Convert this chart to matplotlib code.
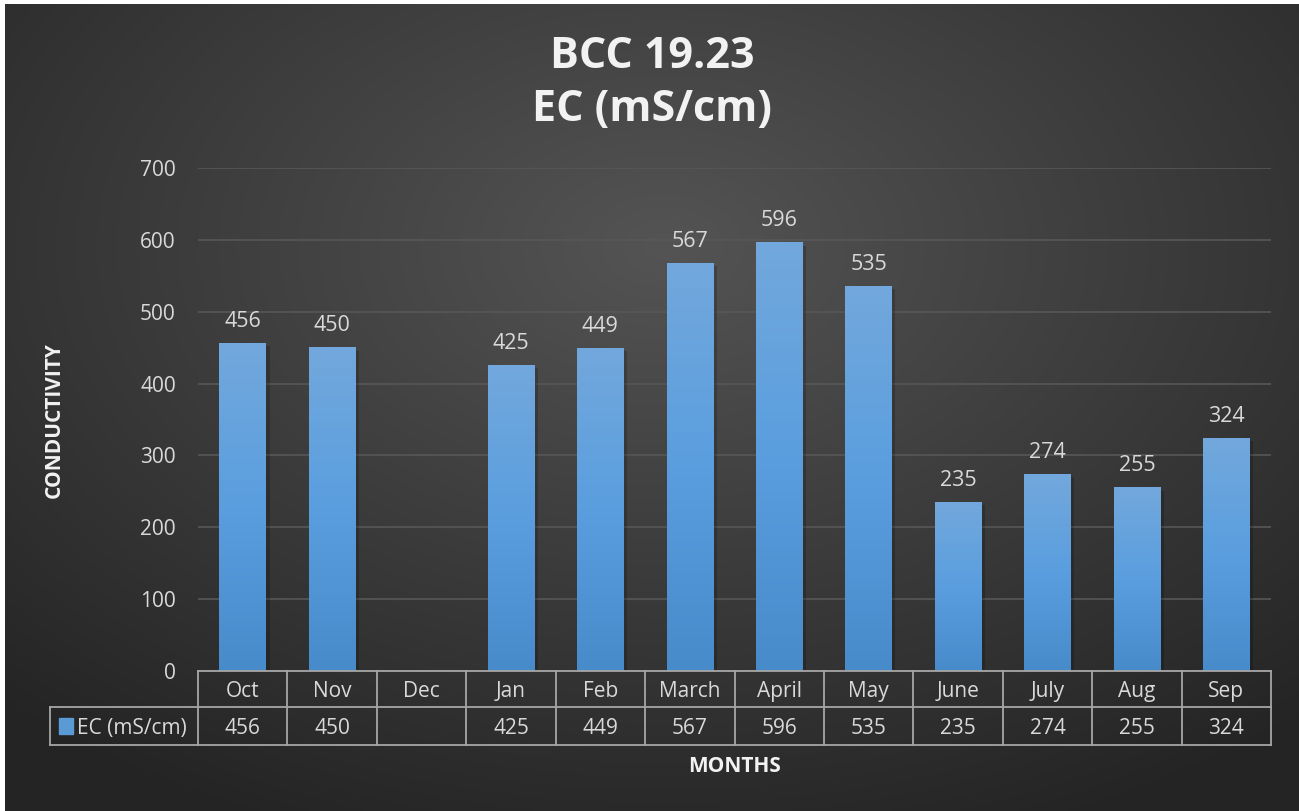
import numpy as np
import matplotlib
matplotlib.use("Agg")
import matplotlib.pyplot as plt
from matplotlib.lines import Line2D
from matplotlib.patches import Rectangle
import matplotlib.transforms as mtransforms

plt.rcParams['font.family'] = ['Open Sans', 'DejaVu Sans']

months = ["Oct", "Nov", "Dec", "Jan", "Feb", "March", "April", "May", "June", "July", "Aug", "Sep"]
ec_values = [456, 450, None, 425, 449, 567, 596, 535, 235, 274, 255, 324]
series_name = "EC (mS/cm)"
title_line1 = "BCC 19.23"
title_line2 = "EC (mS/cm)"
y_ticks = [0, 100, 200, 300, 400, 500, 600, 700]

W, H = 1299, 811
fig = plt.figure(figsize=(W / 100, H / 100), dpi=100)
fig.patch.set_facecolor("white")

# background with radial gradient
bg = fig.add_axes([5 / W, 0, (W - 5) / W, (H - 4) / H])
bg.set_axis_off()
yy, xx = np.mgrid[0:400, 0:650]
cx, cy = 330, 120
r = np.sqrt(((xx - cx) / 650) ** 2 + ((yy - cy) / 420) ** 2)
r = np.clip(r / 0.75, 0, 1)
c_in = np.array([0x54, 0x54, 0x54]) / 255
c_out = np.array([0x24, 0x24, 0x24]) / 255
img = c_in[None, None, :] * (1 - r[..., None]) + c_out[None, None, :] * r[..., None]
bg.imshow(img, aspect="auto", extent=(0, 1, 0, 1), origin="upper")
bg.set_xlim(0, 1)
bg.set_ylim(0, 1)

ax_l, ax_r = 198 / W, 1271 / W
ax_t, ax_b = 1 - 168 / H, 1 - 671 / H
ax = fig.add_axes([ax_l, ax_b, ax_r - ax_l, ax_t - ax_b])
ax.patch.set_alpha(0)

x = np.arange(len(months))
vals = [v if v is not None else 0 for v in ec_values]
bw = 0.52
bars = ax.bar(x, vals, width=bw, color="#5b9bd5", zorder=3)

grad = np.linspace(0, 1, 256)[:, None]
top_c = np.array([0x72, 0xa8, 0xdc]) / 255
mid_c = np.array([0x5a, 0x9e, 0xdf]) / 255
bot_c = np.array([0x47, 0x8b, 0xcb]) / 255
g = np.where(grad < 0.5,
             top_c[None, :] * (1 - grad / 0.5) + mid_c[None, :] * (grad / 0.5),
             mid_c[None, :] * (1 - (grad - 0.5) / 0.5) + bot_c[None, :] * ((grad - 0.5) / 0.5))
gimg = np.repeat(g[:, None, :], 2, axis=1)
for xi, v in zip(x, ec_values):
    if v is None:
        continue
    # soft shadow
    ax.add_patch(Rectangle((xi - bw / 2 + 0.04, 0), bw, v - 4, color="black", alpha=0.18, zorder=2, lw=0))
    ax.imshow(gimg, extent=(xi - bw / 2, xi + bw / 2, 0, v), aspect="auto", zorder=4, origin="upper")
    ax.text(xi, v + 16, f"{v}", ha="center", va="bottom", color="#d9d9d9", fontsize=15.5, zorder=5)

ax.set_xlim(-0.5, len(months) - 0.5)
ax.set_ylim(0, 700)
ax.set_yticks(y_ticks)
ax.set_yticklabels([str(t) for t in y_ticks])
ax.tick_params(axis="y", length=0, colors="#d9d9d9", labelsize=15, pad=16)
ax.set_xticks([])
for s in ax.spines.values():
    s.set_visible(False)
ax.grid(axis="y", color="#575757", lw=1.2, zorder=0)
ax.set_axisbelow(True)

# data table
trans = mtransforms.blended_transform_factory(ax.transData, ax.transAxes)
ah = 671 - 168
y1 = -(707 - 671) / ah
y2 = -(745 - 671) / ah
lc = "#a6a6a6"
xl = -0.5 - (198 - 50) / ((1271 - 198) / 12)
xr = len(months) - 0.5
ax.add_line(Line2D([-0.5, xr], [0, 0], transform=trans, color=lc, lw=1.3, clip_on=False, zorder=6))
ax.add_line(Line2D([xl, xr], [y1, y1], transform=trans, color=lc, lw=1.3, clip_on=False, zorder=6))
ax.add_line(Line2D([xl, xr], [y2, y2], transform=trans, color=lc, lw=1.3, clip_on=False, zorder=6))
ax.add_line(Line2D([xl, xl], [y1, y2], transform=trans, color=lc, lw=1.3, clip_on=False, zorder=6))
for b in np.arange(-0.5, len(months), 1.0):
    ax.add_line(Line2D([b, b], [0, y2], transform=trans, color=lc, lw=1.3, clip_on=False, zorder=6))
for xi, m, v in zip(x, months, ec_values):
    ax.text(xi, y1 / 2 - 0.004, m, transform=trans, ha="center", va="center", color="#d9d9d9", fontsize=15)
    if v is not None:
        ax.text(xi, (y1 + y2) / 2 - 0.004, f"{v}", transform=trans, ha="center", va="center", color="#d9d9d9", fontsize=15)
# legend key inside table
ax.add_patch(Rectangle((xl + 0.1, (y1 + y2) / 2 - 0.015), 0.16, 0.03, transform=trans,
                       color="#5b9bd5", clip_on=False, zorder=6))
ax.text(xl + 0.3, (y1 + y2) / 2 - 0.004, series_name, transform=trans, ha="left", va="center",
        color="#d9d9d9", fontsize=15)

# titles and labels
fig.text(652 / W, 1 - 57 / H, title_line1, ha="center", va="center",
         color="#f2f2f2", fontsize=31, fontweight="bold")
fig.text(652 / W, 1 - 110 / H, title_line2, ha="center", va="center",
         color="#f2f2f2", fontsize=31, fontweight="bold")
fig.text(54 / W, 1 - 420 / H, "CONDUCTIVITY", rotation=90, ha="center", va="center",
         color="#f2f2f2", fontsize=15, fontweight="bold")
fig.text(735 / W, 1 - 766 / H, "MONTHS", ha="center", va="center",
         color="#f2f2f2", fontsize=15, fontweight="bold")

fig.savefig("out.png", dpi=100, facecolor=fig.get_facecolor())
